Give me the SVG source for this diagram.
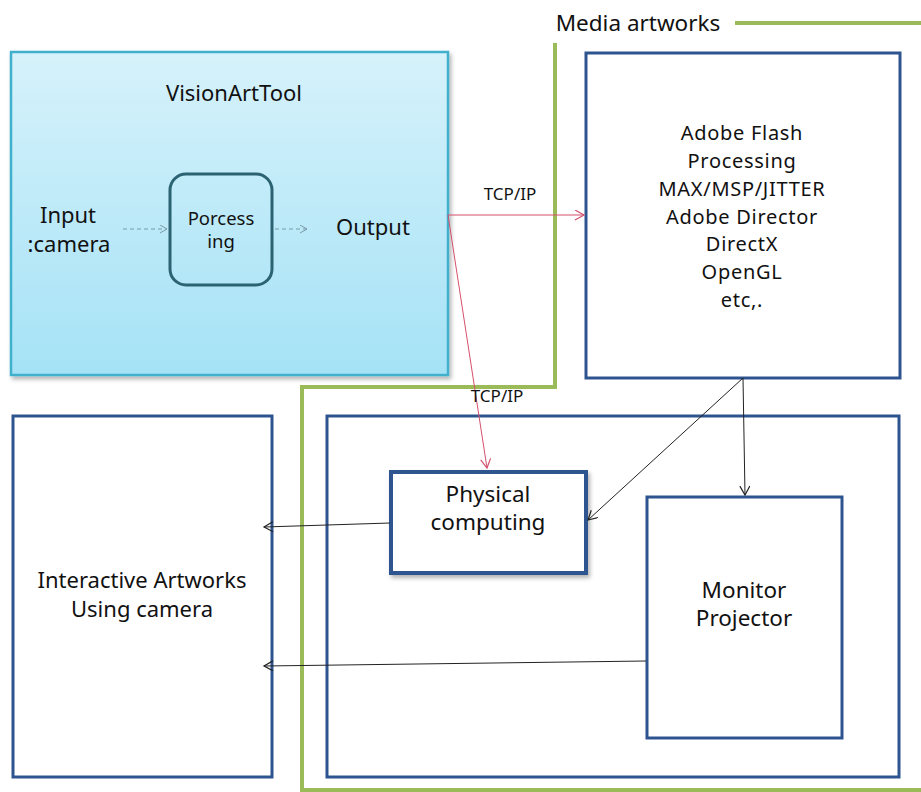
<svg xmlns="http://www.w3.org/2000/svg" width="921" height="792" viewBox="0 0 921 792">
<defs>
<linearGradient id="vg" x1="0" y1="0" x2="0" y2="1">
<stop offset="0" stop-color="#d6f2fb"/>
<stop offset="1" stop-color="#a5e2f6"/>
</linearGradient>
<filter id="sh" x="-10%" y="-10%" width="130%" height="130%">
<feDropShadow dx="2" dy="3" stdDeviation="2" flood-color="#000" flood-opacity="0.3"/>
</filter>
<marker id="ab" markerWidth="12" markerHeight="12" refX="10" refY="5" orient="auto" markerUnits="userSpaceOnUse">
<path d="M1,0 L10,5 L1,10" fill="none" stroke="#222" stroke-width="1.2"/>
</marker>
<marker id="ar" markerWidth="12" markerHeight="12" refX="10" refY="5" orient="auto" markerUnits="userSpaceOnUse">
<path d="M1,0 L10,5 L1,10" fill="none" stroke="#d4506c" stroke-width="1.2"/>
</marker>
<marker id="ad" markerWidth="10" markerHeight="10" refX="8" refY="4" orient="auto" markerUnits="userSpaceOnUse">
<path d="M1,0 L8,4 L1,8" fill="none" stroke="#7a9aa8" stroke-width="1"/>
</marker>
</defs>
<style>
text{font-family:"Noto Sans","Open Sans","DejaVu Sans",sans-serif;fill:#111;text-anchor:middle}
.big{font-size:22.5px}
.mid{font-size:22px}
.lst{font-size:20px;letter-spacing:0.7px}
.sm{font-size:17px}
.box{fill:#fff;stroke:#2e5490;stroke-width:3}
.green{fill:none;stroke:#9bbb59;stroke-width:4}
.blk{fill:none;stroke:#222;stroke-width:1}
.red{fill:none;stroke:#d4506c;stroke-width:1}
</style>
<rect width="921" height="792" fill="#fff"/>

<g id="media-frame">
<polyline class="green" points="735,23 921,23"/>
<polyline class="green" points="555,43 555,387 302,387 302,790 921,790"/>
<text class="big" x="638" y="31">Media artworks</text>
</g>

<g id="visionarttool">
<rect x="11" y="52" width="437" height="323" fill="url(#vg)" stroke="#3fb0cc" stroke-width="2.5" filter="url(#sh)"/>
<text class="mid" x="234" y="101">VisionArtTool</text>
<text class="mid" x="68" y="223">Input</text>
<text class="mid" x="69" y="252">:camera</text>
<text class="mid" x="373" y="235">Output</text>
</g>

<g id="processing">
<rect x="170" y="174" width="102" height="111" rx="16" fill="none" stroke="#2c6373" stroke-width="3"/>
<text x="221" y="225" style="font-size:18.5px">Porcess</text>
<text x="221" y="248" style="font-size:18.5px">ing</text>
</g>

<g id="media-tools">
<rect class="box" x="586" y="53" width="314" height="325"/>
<text class="lst" x="742" y="140">Adobe Flash</text>
<text class="lst" x="742" y="167.8">Processing</text>
<text class="lst" x="742" y="195.7">MAX/MSP/JITTER</text>
<text class="lst" x="742" y="223.5">Adobe Director</text>
<text class="lst" x="742" y="251.3">DirectX</text>
<text class="lst" x="742" y="279.2">OpenGL</text>
<text class="lst" x="742" y="307">etc,.</text>
</g>

<g id="interactive-artworks">
<rect class="box" x="13" y="416" width="259" height="361"/>
<text class="mid" x="142" y="588">Interactive Artworks</text>
<text class="mid" x="142" y="617">Using camera</text>
</g>

<g id="output-devices">
<rect class="box" x="327" y="416" width="572" height="361"/>
</g>

<g id="physical-computing">
<rect x="391" y="472" width="195" height="101" fill="#fff" stroke="#2e5490" stroke-width="4" filter="url(#sh)"/>
<text class="big" x="488" y="502">Physical</text>
<text class="big" x="488" y="530">computing</text>
</g>

<g id="monitor-projector">
<rect class="box" x="647" y="497" width="195" height="241"/>
<text class="big" x="744" y="598">Monitor</text>
<text class="big" x="744" y="626">Projector</text>
</g>

<g id="connectors">
<line x1="123" y1="229" x2="167" y2="229" stroke="#7a9aa8" stroke-width="1" stroke-dasharray="4,3" marker-end="url(#ad)"/>
<line x1="275" y1="229" x2="307" y2="229" stroke="#7a9aa8" stroke-width="1" stroke-dasharray="4,3" marker-end="url(#ad)"/>
<line class="red" x1="448" y1="215" x2="584" y2="215" marker-end="url(#ar)"/>
<text class="sm" x="510" y="200">TCP/IP</text>
<line class="red" x1="448" y1="215" x2="487" y2="468" marker-end="url(#ar)"/>
<text class="sm" x="497" y="402">TCP/IP</text>
<line class="blk" x1="743" y1="378" x2="745" y2="495" marker-end="url(#ab)"/>
<line class="blk" x1="743" y1="378" x2="588" y2="520" marker-end="url(#ab)"/>
<line class="blk" x1="390" y1="523" x2="264" y2="527" marker-end="url(#ab)"/>
<line class="blk" x1="646" y1="661" x2="264" y2="666" marker-end="url(#ab)"/>
</g>
</svg>
